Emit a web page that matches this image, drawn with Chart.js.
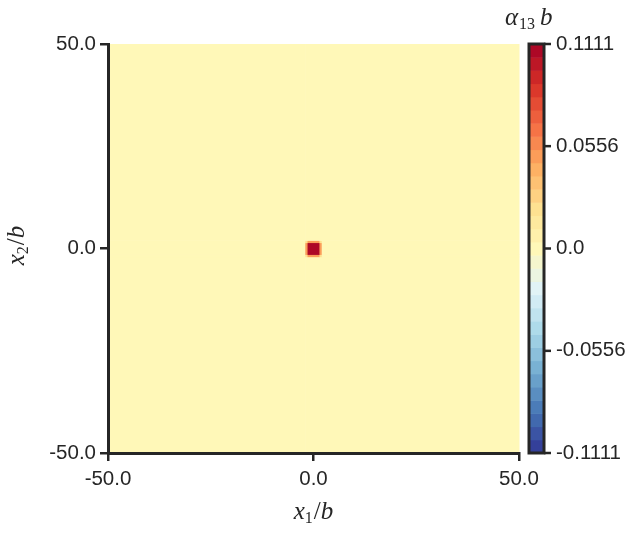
<!DOCTYPE html>
<html>
<head>
<meta charset="UTF-8">
<title>alpha13 field</title>
<script src="https://cdn.jsdelivr.net/npm/chart.js"></script>
<style>
  body { margin: 0; background: #ffffff; }
</style>
</head>
<body>
<canvas id="field" width="637" height="533"></canvas>
<script>
// cell edges of the field (same in x1 and x2)
const xEdges = [-50, -2.0, -1.45, 1.45, 2.0, 50];
const yEdges = [-50, -2.0, -1.45, 1.45, 2.0, 50];
// alpha13*b per cell, rows from x2 = -50 up to x2 = 50
const alpha13 = [
  [0, 0,     0,      0,     0],
  [0, 0.025, 0.05,   0.025, 0],
  [0, 0.05,  0.1111, 0.05,  0],
  [0, 0.025, 0.05,   0.025, 0],
  [0, 0,     0,      0,     0]
];
const axisTicks = [-50, 0, 50];
const cbarTicks = [-0.1111, -0.0556, 0, 0.0556, 0.1111];
const cbarMin = -0.1111;
const cbarMax = 0.1111;
const cbarBands = 31;

const ink = '#262626';
const stops = ['#313695', '#4575b4', '#74add1', '#abd9e9', '#e0f3f8', '#fff8b8',
               '#fee090', '#fdae61', '#f46d43', '#d73027', '#a50026'];

function hexRgb(h) {
  return [1, 3, 5].map(i => parseInt(h.slice(i, i + 2), 16));
}
function cmap(t) {
  const p = Math.min(Math.max(t, 0), 1) * (stops.length - 1);
  const i = Math.min(Math.floor(p), stops.length - 2);
  const f = p - i;
  const a = hexRgb(stops[i]), b = hexRgb(stops[i + 1]);
  const c = a.map((v, k) => Math.round(v + (b[k] - v) * f));
  return `rgb(${c[0]},${c[1]},${c[2]})`;
}
const levels = [];
for (let k = 0; k <= cbarBands; k++) levels.push(cbarMin + (cbarMax - cbarMin) * k / cbarBands);
function bandOf(v) {
  let k = Math.floor((v - cbarMin) / (cbarMax - cbarMin) * cbarBands);
  return Math.min(Math.max(k, 0), cbarBands - 1);
}
function bandColor(k) { return cmap((k + 0.5) / cbarBands); }

// draw text with math-like subscripts, returns width
function mathWidth(ctx, parts) {
  let w = 0;
  parts.forEach(p => { ctx.font = p.font; p.w = ctx.measureText(p.t).width; w += p.w + (p.gap || 0); });
  return w;
}
function drawMath(ctx, parts, x, y) {
  mathWidth(ctx, parts);
  let cx = x;
  parts.forEach(p => {
    ctx.font = p.font;
    ctx.fillText(p.t, cx, y + (p.dy || 0));
    cx += p.w + (p.gap || 0);
  });
}
const it = 'italic 25px "Liberation Serif"';
const rm = '25px "Liberation Serif"';
const sb = '16px "Liberation Serif"';

const fieldPlugin = {
  id: 'fieldPlugin',
  beforeDraw(chart) {
    const { ctx, scales: { x, y } } = chart;
    ctx.save();
    for (let j = 0; j < yEdges.length - 1; j++) {
      for (let i = 0; i < xEdges.length - 1; i++) {
        const x0 = x.getPixelForValue(xEdges[i]), x1 = x.getPixelForValue(xEdges[i + 1]);
        const y0 = y.getPixelForValue(yEdges[j]), y1 = y.getPixelForValue(yEdges[j + 1]);
        ctx.fillStyle = bandColor(bandOf(alpha13[j][i]));
        ctx.fillRect(Math.min(x0, x1), Math.min(y0, y1), Math.abs(x1 - x0) + 0.5, Math.abs(y1 - y0) + 0.5);
      }
    }
    ctx.restore();
  },
  afterDraw(chart) {
    const { ctx, chartArea, scales: { cb } } = chart;
    const barL = chartArea.right + 10, barR = chartArea.right + 25;
    ctx.save();
    for (let k = 0; k < cbarBands; k++) {
      const yLo = cb.getPixelForValue(levels[k]), yHi = cb.getPixelForValue(levels[k + 1]);
      ctx.fillStyle = bandColor(k);
      ctx.fillRect(barL, yHi, barR - barL, yLo - yHi + 0.5);
    }
    ctx.strokeStyle = ink;
    ctx.lineWidth = 3;
    const top = cb.getPixelForValue(cbarMax), bot = cb.getPixelForValue(cbarMin);
    ctx.strokeRect(barL, top, barR - barL, bot - top);
    ctx.lineWidth = 2.5;
    cbarTicks.forEach(v => {
      const py = cb.getPixelForValue(v);
      ctx.beginPath();
      ctx.moveTo(barR, py);
      ctx.lineTo(barR + 7, py);
      ctx.stroke();
    });

    ctx.fillStyle = ink;
    ctx.textBaseline = 'alphabetic';
    // x1/b
    const xParts = [
      { t: 'x', font: it }, { t: '1', font: sb, dy: 4, gap: 1 },
      { t: '/', font: rm }, { t: 'b', font: it }
    ];
    const w = mathWidth(ctx, xParts);
    drawMath(ctx, xParts, (chartArea.left + chartArea.right) / 2 - w / 2, 519);
    // x2/b rotated
    const yParts = [
      { t: 'x', font: it }, { t: '2', font: sb, dy: 4, gap: 1 },
      { t: '/', font: rm }, { t: 'b', font: it }
    ];
    ctx.save();
    ctx.translate(24, (chartArea.top + chartArea.bottom) / 2 - 3);
    ctx.rotate(-Math.PI / 2);
    drawMath(ctx, yParts, -w / 2, 0);
    ctx.restore();
    // alpha13 b
    drawMath(ctx, [
      { t: 'α', font: it, gap: 1 }, { t: '13', font: sb, dy: 4, gap: 5 }, { t: 'b', font: it }
    ], 505, 25);
    ctx.restore();
  }
};

const tickFont = { family: '"Liberation Sans", "DejaVu Sans", sans-serif', size: 20.5 };
const fmt1 = v => Number(v).toFixed(1);

new Chart(document.getElementById('field'), {
  type: 'scatter',
  data: { datasets: [{ data: [], showLine: false }] },
  options: {
    responsive: false,
    animation: false,
    events: [],
    layout: { padding: { left: 0, top: 44, right: 0, bottom: 0 } },
    plugins: { legend: { display: false }, tooltip: { enabled: false } },
    scales: {
      x: {
        type: 'linear', position: 'bottom', min: -50, max: 50,
        afterBuildTicks: s => { s.ticks = axisTicks.map(v => ({ value: v })); },
        afterFit: s => { s.height = 80; },
        grid: { drawOnChartArea: false, drawTicks: true, tickLength: 8, color: ink, lineWidth: 2.5 },
        border: { display: true, color: ink, width: 3 },
        ticks: { color: ink, font: tickFont, padding: 6, maxRotation: 0, callback: fmt1 }
      },
      y: {
        type: 'linear', position: 'left', min: -50, max: 50,
        afterBuildTicks: s => { s.ticks = axisTicks.map(v => ({ value: v })); },
        afterFit: s => { s.width = 108; },
        grid: { drawOnChartArea: false, drawTicks: true, tickLength: 8, color: ink, lineWidth: 2.5 },
        border: { display: true, color: ink, width: 3 },
        ticks: { color: ink, font: tickFont, padding: 4, callback: fmt1 }
      },
      cb: {
        type: 'linear', position: 'right', min: cbarMin, max: cbarMax,
        afterBuildTicks: s => { s.ticks = cbarTicks.map(v => ({ value: v })); },
        afterFit: s => { s.width = 118; },
        grid: { display: false, drawTicks: true, tickLength: 32 },
        border: { display: false },
        ticks: { color: ink, font: tickFont, padding: 5, callback: v => v === 0 ? '0.0' : Number(v).toFixed(4) }
      }
    }
  },
  plugins: [fieldPlugin]
});
</script>
</body>
</html>
